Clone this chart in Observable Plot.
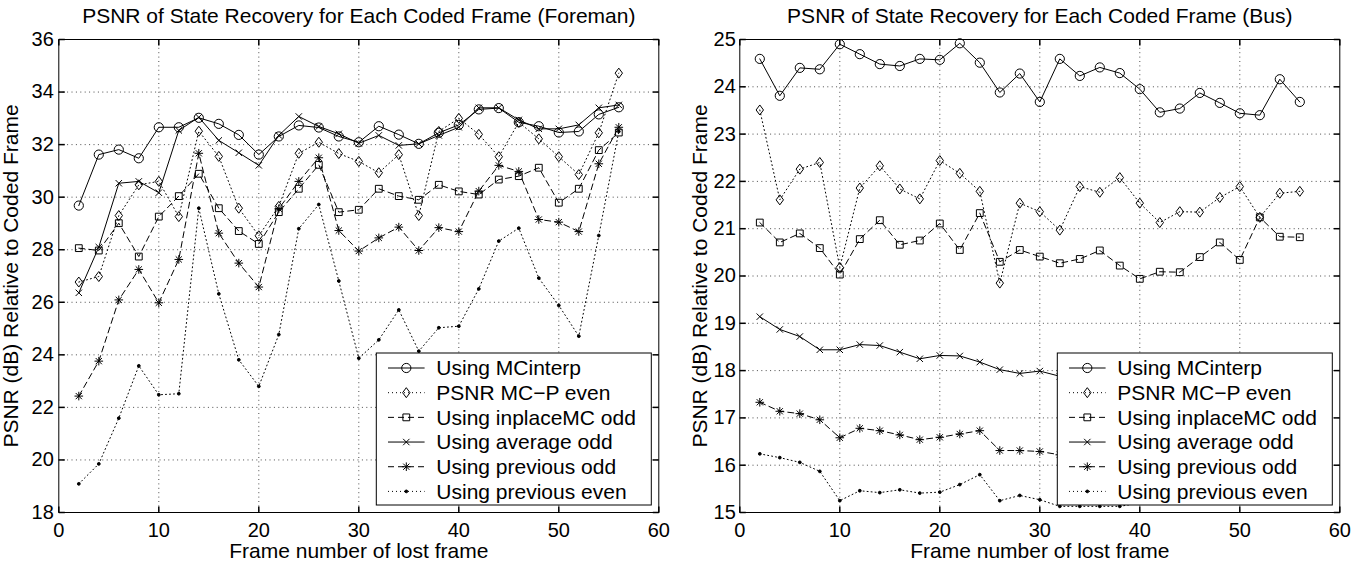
<!DOCTYPE html>
<html><head><meta charset="utf-8">
<script src="https://cdn.jsdelivr.net/npm/d3@7"></script>
<script src="https://cdn.jsdelivr.net/npm/@observablehq/plot@0.6"></script>
<style>
html,body{margin:0;padding:0;background:#fff;}
#wrap{display:flex;width:1364px;height:563px;overflow:hidden;}
svg{font-family:"Liberation Sans",Arial,Helvetica,sans-serif;}
</style></head><body><div id="wrap"></div>
<script>
// ---------- data ----------
const frames = [2,4,6,8,10,12,14,16,18,20,22,24,26,28,30,32,34,36,38,40,42,44,46,48,50,52,54,56];
const xTicks = [0,10,20,30,40,50,60];
const foremanYTicks = [18,20,22,24,26,28,30,32,34,36];
const busYTicks = [15,16,17,18,19,20,21,22,23,24,25];
const seriesNames = ["Using MCinterp","PSNR MC\u2212P even","Using inplaceMC odd","Using average odd","Using previous odd","Using previous even"];
const titles = ["PSNR of State Recovery for Each Coded Frame (Foreman)","PSNR of State Recovery for Each Coded Frame (Bus)"];
const xLabel = "Frame number of lost frame";
const yLabel = "PSNR (dB) Relative to Coded Frame";

const foremanMCinterp = [29.68,31.62,31.81,31.48,32.66,32.66,33.02,32.79,32.37,31.62,32.31,32.73,32.65,32.31,32.09,32.70,32.38,32.03,32.45,32.75,33.34,33.39,32.85,32.70,32.46,32.50,33.15,33.42];
const foremanMCPEven = [26.77,26.98,29.30,30.47,30.60,29.26,32.51,31.55,29.58,28.53,29.65,31.67,32.09,31.66,31.36,30.93,31.62,29.30,32.50,33.00,32.39,31.54,32.85,32.22,31.54,30.86,32.45,34.72];
const foremanInplace = [28.06,27.97,29.01,27.74,29.26,30.04,30.89,29.58,28.71,28.22,29.43,30.32,31.23,29.43,29.52,30.32,30.04,29.90,30.47,30.22,30.10,30.67,30.80,31.12,29.79,30.32,31.79,32.46];
const foremanAverage = [26.36,28.10,30.53,30.60,30.17,32.54,33.04,32.16,31.69,31.21,32.35,33.07,32.69,32.41,32.05,32.35,31.97,32.03,32.35,32.66,33.40,33.40,32.94,32.60,32.60,32.75,33.40,33.51];
const foremanPrevOdd = [22.43,23.76,26.09,27.25,25.98,27.63,31.67,28.63,27.49,26.58,29.56,30.60,31.50,28.73,27.95,28.45,28.86,27.97,28.84,28.69,30.23,31.21,30.98,29.15,29.05,28.69,31.27,32.66];
const foremanPrevEven = [19.09,19.85,21.59,23.58,22.48,22.52,29.58,26.32,23.81,22.80,24.77,28.80,29.72,26.81,23.87,24.57,25.71,24.14,25.03,25.09,26.51,28.33,28.82,26.92,25.88,24.71,28.54,32.50];

const busMCinterp = [24.59,23.81,24.40,24.37,24.90,24.69,24.48,24.44,24.59,24.57,24.92,24.51,23.88,24.28,23.68,24.59,24.23,24.41,24.29,23.95,23.46,23.54,23.87,23.66,23.44,23.40,24.16,23.68];
const busMCPEven = [23.51,21.61,22.26,22.40,20.18,21.86,22.33,21.84,21.63,22.44,22.17,21.79,19.85,21.54,21.36,20.97,21.89,21.77,22.08,21.54,21.13,21.36,21.35,21.66,21.89,21.24,21.75,21.79];
const busInplace = [21.13,20.71,20.90,20.59,20.03,20.78,21.18,20.66,20.75,21.11,20.55,21.33,20.30,20.55,20.41,20.27,20.36,20.54,20.22,19.94,20.09,20.08,20.40,20.71,20.34,21.24,20.83,20.82];
const busAverage = [19.14,18.87,18.72,18.44,18.44,18.55,18.53,18.39,18.25,18.32,18.31,18.18,18.02,17.94,17.99,17.88,17.85,17.90,17.80,17.75,17.72,17.70,17.65,17.62,17.60,17.55,17.60,17.50];
const busPrevOdd = [17.33,17.14,17.09,16.96,16.58,16.78,16.73,16.64,16.54,16.59,16.66,16.73,16.31,16.31,16.29,16.22,16.15,16.10,16.05,16.00,15.95,15.90,15.90,15.85,15.80,15.80,15.75,15.70];
const busPrevEven = [16.24,16.16,16.06,15.87,15.25,15.46,15.42,15.48,15.41,15.43,15.59,15.80,15.25,15.36,15.27,15.13,15.13,15.13,15.13,15.20,15.25,15.30,15.25,15.30,15.35,15.30,15.30,15.25];

// ---------- symbols (MATLAB-like markers) ----------
const symCircle = {draw(c){c.moveTo(4.6,0);c.arc(0,0,4.6,0,2*Math.PI);}};
const symDiamond = {draw(c){c.moveTo(0,-5);c.lineTo(3.7,0);c.lineTo(0,5);c.lineTo(-3.7,0);c.closePath();}};
const symSquare = {draw(c){c.moveTo(-3.4,-3.4);c.lineTo(3.4,-3.4);c.lineTo(3.4,3.4);c.lineTo(-3.4,3.4);c.closePath();}};
const symTimes = {draw(c){const s=3.2;c.moveTo(-s,-s);c.lineTo(s,s);c.moveTo(s,-s);c.lineTo(-s,s);}};
const symAster = {draw(c){const s=4.3,d=3.1;c.moveTo(-s,0);c.lineTo(s,0);c.moveTo(0,-s);c.lineTo(0,s);c.moveTo(-d,-d);c.lineTo(d,d);c.moveTo(d,-d);c.lineTo(-d,d);}};
const symDot = {draw(c){c.moveTo(1.4,0);c.arc(0,0,1.4,0,2*Math.PI);}};
const tickUp = {draw(c){c.moveTo(0,0);c.lineTo(0,-6);}};
const tickDown = {draw(c){c.moveTo(0,0);c.lineTo(0,6);}};
const tickRight = {draw(c){c.moveTo(0,0);c.lineTo(6,0);}};
const tickLeft = {draw(c){c.moveTo(0,0);c.lineTo(-6,0);}};

const DOT = "1,3", DASH = "6,4";
const styles = [
  {dash: null, symbol: symCircle, fill: "none"},
  {dash: DOT, symbol: symDiamond, fill: "none"},
  {dash: DASH, symbol: symSquare, fill: "none"},
  {dash: null, symbol: symTimes, fill: "none"},
  {dash: DASH, symbol: symAster, fill: "none"},
  {dash: DOT, symbol: symDot, fill: "#000"}
];

const FONT = "Liberation Sans, Arial, Helvetica, sans-serif";
const W = 682, H = 563, MT = 39, MB = 51;

function panel({title, yDomain, yTicks, values, marginLeft, marginRight, yLabelDx, yTickPad}) {
  const marks = [
    Plot.gridX(xTicks.slice(1, -1), {stroke: "#000", strokeOpacity: 0.7, strokeDasharray: "1,3.4"}),
    Plot.gridY(yTicks.slice(1, -1), {stroke: "#000", strokeOpacity: 0.7, strokeDasharray: "1,3.4"}),
    Plot.frame({stroke: "#000", strokeWidth: 1}),
    Plot.dot(xTicks, {x: d => d, frameAnchor: "bottom", symbol: tickUp, stroke: "#000", fill: "none", r: 3}),
    Plot.dot(xTicks, {x: d => d, frameAnchor: "top", symbol: tickDown, stroke: "#000", fill: "none", r: 3}),
    Plot.dot(yTicks, {y: d => d, frameAnchor: "left", symbol: tickRight, stroke: "#000", fill: "none", r: 3}),
    Plot.dot(yTicks, {y: d => d, frameAnchor: "right", symbol: tickLeft, stroke: "#000", fill: "none", r: 3}),
    Plot.axisX(xTicks, {tickSize: 0, tickPadding: 10.5, fontSize: 20, label: null}),
    Plot.axisY(yTicks, {tickSize: 0, tickPadding: yTickPad, fontSize: 20, label: null})
  ];
  values.forEach((vals, k) => {
    const rows = frames.map((f, i) => ({x: f, y: vals[i]}));
    const st = styles[k];
    marks.push(Plot.line(rows, {x: "x", y: "y", stroke: "#000", strokeWidth: 1, strokeDasharray: st.dash}));
    marks.push(Plot.dot(rows, {x: "x", y: "y", symbol: st.symbol, stroke: "#000", strokeWidth: 1, fill: st.fill, r: 3}));
  });
  marks.push(Plot.text([title], {frameAnchor: "top", lineAnchor: "bottom", dy: -17, fontSize: 21, fill: "#000"}));
  marks.push(Plot.text([xLabel], {frameAnchor: "bottom", lineAnchor: "bottom", dy: 45, fontSize: 21, fill: "#000"}));
  marks.push(Plot.text([yLabel], {frameAnchor: "left", textAnchor: "middle", rotate: -90, dx: yLabelDx, fontSize: 21, fill: "#000"}));

  const chart = Plot.plot({
    width: W, height: H,
    marginLeft, marginRight, marginTop: MT, marginBottom: MB,
    style: {fontFamily: FONT, fontSize: "20px", background: "#fff", color: "#000", overflow: "visible"},
    x: {domain: [0, 60]},
    y: {domain: yDomain},
    marks
  });

  // legend (inside lower-right corner of the axes)
  const svg = d3.select(chart);
  const lw = 275, lh = 152;
  const lx = W - marginRight - 7 - lw, ly = H - MB - 7 - lh;
  const g = svg.append("g").attr("font-family", FONT).attr("font-size", 21).attr("text-anchor", "start");
  g.append("rect").attr("x", lx).attr("y", ly).attr("width", lw).attr("height", lh)
    .attr("fill", "#fff").attr("stroke", "#000").attr("stroke-width", 1);
  seriesNames.forEach((name, k) => {
    const st = styles[k];
    const cy = ly + 15 + k * 24.68;
    g.append("line").attr("x1", lx + 11.7).attr("x2", lx + 48.3).attr("y1", cy).attr("y2", cy)
      .attr("stroke", "#000").attr("stroke-width", 1).attr("stroke-dasharray", st.dash);
    g.append("path").attr("d", d3.symbol().type(st.symbol)()).attr("transform", `translate(${lx + 30},${cy})`)
      .attr("fill", st.fill).attr("stroke", "#000").attr("stroke-width", 1);
    g.append("text").attr("x", lx + 60).attr("y", cy).attr("dy", "0.34em").attr("fill", "#000")
      .attr("text-anchor", "start").text(name);
  });
  return chart;
}

const wrap = document.getElementById("wrap");
wrap.appendChild(panel({
  title: titles[0], yDomain: [18, 36], yTicks: foremanYTicks,
  values: [foremanMCinterp, foremanMCPEven, foremanInplace, foremanAverage, foremanPrevOdd, foremanPrevEven],
  marginLeft: 58.3, marginRight: 23.7, yLabelDx: -47.5, yTickPad: 5
}));
wrap.appendChild(panel({
  title: titles[1], yDomain: [15, 25], yTicks: busYTicks,
  values: [busMCinterp, busMCPEven, busInplace, busAverage, busPrevOdd, busPrevEven],
  marginLeft: 57.3, marginRight: 24.7, yLabelDx: -40, yTickPad: 4
}));
</script></body></html>
